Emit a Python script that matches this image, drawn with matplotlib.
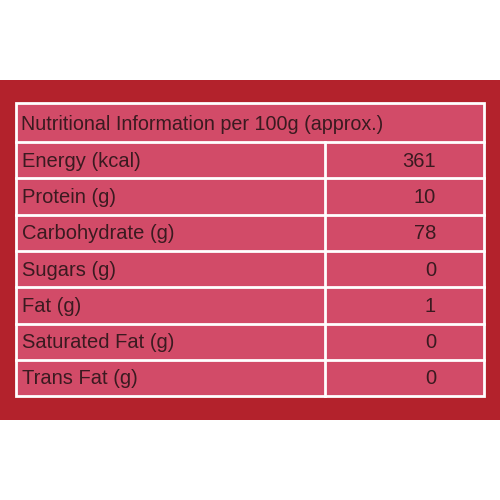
import matplotlib.pyplot as plt
from matplotlib.patches import Rectangle

TITLE = "Nutritional Information per 100g (approx.)"
NUTRIENTS = ["Energy (kcal)", "Protein (g)", "Carbohydrate (g)", "Sugars (g)",
             "Fat (g)", "Saturated Fat (g)", "Trans Fat (g)"]
VALUES = ["361", "10", "78", "0", "1", "0", "0"]

BAND = '#B3222C'
CELL = '#D24B68'
INK = '#3A1A20'

fig = plt.figure(figsize=(5, 5), dpi=100)
ax = fig.add_axes([0, 0, 1, 1])
ax.set_xlim(0, 500)
ax.set_ylim(500, 0)
ax.axis('off')

ax.add_patch(Rectangle((0, 80), 500, 340, color=BAND, lw=0))

left, right, top = 16, 484, 103
head_h, row_h, col_x = 39, 36.3, 325
bottom = top + head_h + row_h * len(NUTRIENTS)
ax.add_patch(Rectangle((left, top), right - left, bottom - top,
                       facecolor=CELL, edgecolor='white', lw=2))

ax.text(left + 5, top + head_h / 2 + 2, TITLE, va='center', ha='left',
        fontsize=14.2, color=INK, family='Liberation Sans')

for i, (name, val) in enumerate(zip(NUTRIENTS, VALUES)):
    y0 = top + head_h + i * row_h
    ax.plot([left, right], [y0, y0], color='white', lw=2)
    yc = y0 + row_h / 2 + 1
    ax.text(left + 6, yc, name, va='center', ha='left', fontsize=14.5,
            color=INK, family='Liberation Sans')
    ax.text(right - 48, yc, val, va='center', ha='right', fontsize=14.5,
            color=INK, family='Liberation Sans')

ax.plot([col_x, col_x], [top + head_h, bottom], color='white', lw=2)

fig.savefig("out.png", dpi=100, facecolor='white')
